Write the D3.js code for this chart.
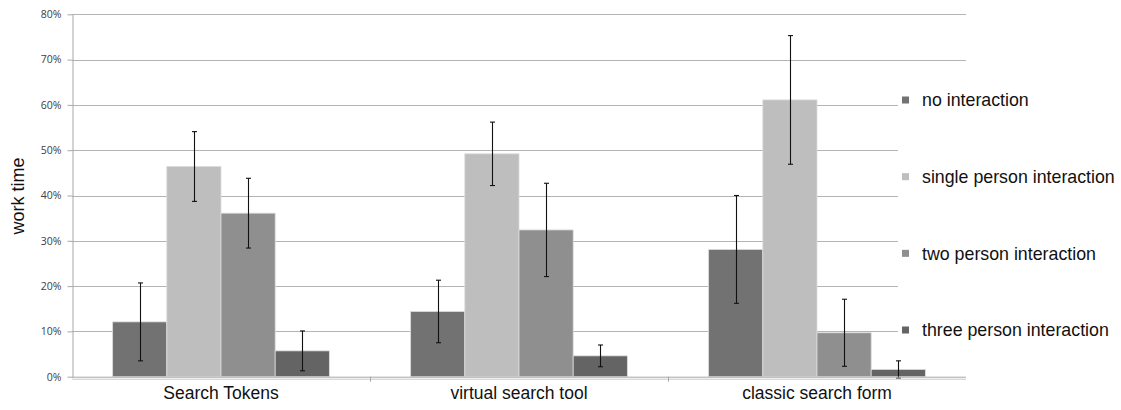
<!DOCTYPE html>
<html><head><meta charset="utf-8">
<script src="https://cdn.jsdelivr.net/npm/d3@7"></script>
<style>body{margin:0;background:#fff}svg{display:block}</style>
</head><body>
<svg id="c" width="1121" height="410"></svg>
<script>
const categories = ["Search Tokens", "virtual search tool", "classic search form"];
const seriesNames = ["no interaction", "single person interaction", "two person interaction", "three person interaction"];
const seriesColors = ["#727272", "#bebebe", "#8f8f8f", "#646464"];
// mean values (fraction) per series, per category
const noInteraction     = [0.121, 0.144, 0.281];
const singlePerson      = [0.464, 0.492, 0.611];
const twoPerson         = [0.361, 0.324, 0.097];
const threePerson       = [0.057, 0.046, 0.016];
// error (± half-range) per series, per category
const noInteractionErr  = [0.086, 0.069, 0.119];
const singlePersonErr   = [0.077, 0.070, 0.142];
const twoPersonErr      = [0.077, 0.103, 0.074];
const threePersonErr    = [0.044, 0.024, 0.019];
const yTicks = [0, 0.1, 0.2, 0.3, 0.4, 0.5, 0.6, 0.7, 0.8];
const yTitle = "work time";

const values = [noInteraction, singlePerson, twoPerson, threePerson];
const errs = [noInteractionErr, singlePersonErr, twoPersonErr, threePersonErr];

const svg = d3.select("#c");
const L = 72, R = 966, T = 14.3, B = 376.7;
const x0 = d3.scaleBand().domain(categories).range([L, R]).padding(0);
const x1 = d3.scaleBand().domain(d3.range(seriesNames.length)).range([0, x0.bandwidth()]).paddingInner(0).paddingOuter(0.75);
const y = d3.scaleLinear().domain([0, 0.8]).range([B, T]);

// gridlines
svg.append("g").selectAll("line").data(yTicks.slice(1)).join("line")
  .attr("x1", L).attr("x2", R)
  .attr("y1", d => Math.round(y(d)) + 0.5).attr("y2", d => Math.round(y(d)) + 0.5)
  .attr("stroke", "#b4b4b4").attr("stroke-width", 1.2);

// y axis
const yAxis = d3.axisLeft(y).tickValues(yTicks).tickFormat(d3.format(".0%")).tickSize(5).tickSizeOuter(0);
const gy = svg.append("g").attr("transform", `translate(${L + 0.5},0)`).call(yAxis);
gy.select(".domain").attr("stroke", "#a8a8a8");
gy.selectAll(".tick line").attr("stroke", "#a8a8a8");
gy.selectAll(".tick text").attr("font-family", "'Open Sans', 'DejaVu Sans', sans-serif").attr("font-size", 10.5).attr("fill", "#404040").attr("x", -11);

// bars
const groups = svg.append("g").selectAll("g").data(categories).join("g")
  .attr("transform", d => `translate(${x0(d)},0)`);
groups.each(function(cat, ci) {
  const g = d3.select(this);
  seriesNames.forEach((s, si) => {
    const v = values[si][ci];
    g.append("rect")
      .attr("x", x1(si)).attr("width", x1.bandwidth())
      .attr("y", y(v)).attr("height", B - y(v))
      .attr("fill", seriesColors[si]).attr("stroke", "#dcdcdc").attr("stroke-width", 0.8);
  });
});

// x axis
svg.append("line").attr("x1", L).attr("x2", R).attr("y1", B + 0.5).attr("y2", B + 0.5).attr("stroke", "#a8a8a8").attr("stroke-width", 1);
svg.append("line").attr("x1", L).attr("x2", R).attr("y1", B + 2.5).attr("y2", B + 2.5).attr("stroke", "#c8c8c8").attr("stroke-width", 1);
const xAxis = d3.axisBottom(x0).tickSize(0).tickPadding(8);
const gx = svg.append("g").attr("transform", `translate(0,${B + 2})`).call(xAxis);
gx.select(".domain").remove();
gx.selectAll(".tick text").attr("font-family", "'Liberation Sans', Arial, sans-serif").attr("font-size", 17.5).attr("fill", "#111");
// category separator ticks
svg.append("g").selectAll("line").data(categories.slice(1)).join("line")
  .attr("x1", d => Math.round(x0(d)) + 0.5).attr("x2", d => Math.round(x0(d)) + 0.5)
  .attr("y1", B).attr("y2", B + 5).attr("stroke", "#a8a8a8");

// error bars
groups.each(function(cat, ci) {
  const g = d3.select(this);
  seriesNames.forEach((s, si) => {
    const v = values[si][ci], e = errs[si][ci];
    const cx = Math.round(x1(si) + x1.bandwidth() / 2) + 0.5;
    const hi = y(v + e), lo = y(v - e);
    g.append("line").attr("x1", cx).attr("x2", cx).attr("y1", hi).attr("y2", lo).attr("stroke", "#111").attr("stroke-width", 1.1);
    [hi, lo].forEach(yy => g.append("line").attr("x1", cx - 2.5).attr("x2", cx + 2.5).attr("y1", yy).attr("y2", yy).attr("stroke", "#111").attr("stroke-width", 1.1));
  });
});

// y title
svg.append("text").attr("transform", "translate(24,196) rotate(-90)").attr("text-anchor", "middle")
  .attr("font-family", "'Liberation Sans', Arial, sans-serif").attr("font-size", 18).attr("fill", "#111").text(yTitle);

// legend
const lg = svg.append("g");
lg.append("rect").attr("x", 898).attr("y", 90).attr("width", 223).attr("height", 255).attr("fill", "#fff");
const legY = d3.scalePoint().domain(seriesNames).range([100, 330]);
const items = lg.selectAll("g").data(seriesNames).join("g").attr("transform", d => `translate(0,${legY(d)})`);
items.append("rect").attr("x", 902).attr("y", -3.5).attr("width", 7).attr("height", 7).attr("fill", (d, i) => seriesColors[i]);
items.append("text").attr("x", 922).attr("y", 0).attr("dy", "0.35em")
  .attr("font-family", "'Liberation Sans', Arial, sans-serif").attr("font-size", 17.8).attr("fill", "#111").text(d => d);
</script>
</body></html>
